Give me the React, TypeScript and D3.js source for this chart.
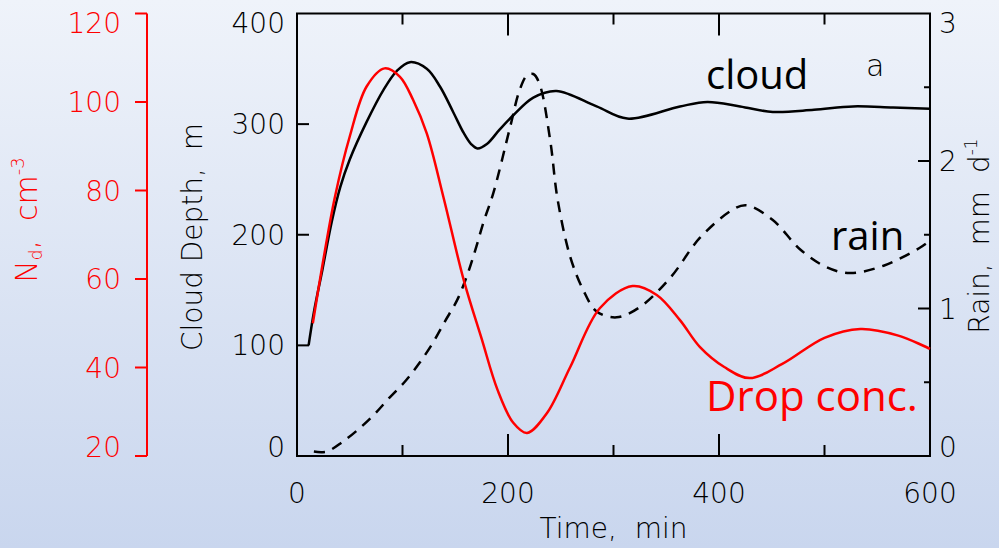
import React from 'react';
import * as d3 from 'd3';

// Cloud depth (m) vs time (min)
const cloudTime = [11, 16, 24, 33, 41, 50, 66, 82, 94.5, 107, 123, 135.5, 148, 158, 165, 171, 180, 192, 205, 224, 246, 284, 313, 363, 389, 420, 451, 490, 527, 565, 600];
const cloudDepth = [100, 130, 168, 212, 243, 268, 302, 331, 348, 356, 350, 334, 311, 292, 282, 278, 282, 295, 308, 324, 330, 316, 305, 316, 320, 316, 311, 313, 316, 315, 314];

// Drop concentration Nd (cm^-3) vs time (min)
const dropTime = [15, 24, 36, 50, 66, 83, 97.6, 110, 123, 138.7, 158, 175, 190, 205, 218, 237, 259, 287, 318, 341, 363, 382, 405, 429, 460, 500, 534, 570, 600];
const dropConc = [50, 63, 78.6, 92.2, 103.5, 107.6, 105.7, 100.5, 92.9, 78.6, 59.8, 46.5, 35, 27.5, 25.2, 29.7, 40.1, 53.4, 58.4, 56.4, 50.7, 44.6, 40.1, 37.6, 40.8, 46.7, 48.7, 47.2, 44.2];

// Rain rate (mm/d) vs time (min)
const rainTime = [16, 28, 43, 58, 73, 87, 103, 116, 129, 140, 152, 162, 170, 177, 186, 202, 211, 218, 224, 230, 240, 247, 259, 271, 284, 303, 325, 354, 382, 413, 426, 451, 477, 502, 524, 556, 590, 600];
const rainRate = [0.03, 0.03, 0.095, 0.18, 0.28, 0.39, 0.51, 0.63, 0.77, 0.91, 1.06, 1.24, 1.42, 1.59, 1.78, 2.23, 2.48, 2.58, 2.59, 2.52, 2.14, 1.74, 1.35, 1.13, 0.98, 0.94, 1.01, 1.21, 1.48, 1.67, 1.7, 1.6, 1.4, 1.28, 1.24, 1.29, 1.41, 1.46];

// Axis ticks
const timeTicks = [0, 200, 400, 600];
const timeMinor = [100, 300, 500];
const depthTicks = [0, 100, 200, 300, 400];
const ndTicks = [20, 40, 60, 80, 100, 120];
const rainTicks = [0, 1, 2, 3];
const rainMinor = [0.5, 1.5, 2.5];

const W = 999;
const H = 548;
const M = { left: 297, right: 930, top: 13.5, bottom: 456 };
const ndAxisX = 147;

const axisFont = "'DejaVu Sans', sans-serif";
const noteFont = "'Open Sans', sans-serif";

export default function App() {
  const x = d3.scaleLinear().domain([0, 600]).range([M.left, M.right]);
  const yDepth = d3.scaleLinear().domain([0, 400]).range([M.bottom, M.top]);
  const yNd = d3.scaleLinear().domain([20, 120]).range([M.bottom, M.top]);
  const yRain = d3.scaleLinear().domain([0, 3]).range([M.bottom, M.top]);

  const path = (ts: number[], vs: number[], y: d3.ScaleLinear<number, number>) =>
    d3
      .line<number>()
      .x((_, i) => x(ts[i]))
      .y((v) => y(v))
      .curve(d3.curveCatmullRom.alpha(0.5))(vs) || '';

  // end labels are nudged inside the frame
  const labelY = (y: number) => Math.min(Math.max(y, M.top + 9), M.bottom - 9);

  const tickText = { fontFamily: axisFont, fontSize: 28, fontWeight: 300 } as const;

  return (
    <div style={{ position: 'fixed', left: 0, top: 0, width: W, height: H }}>
      <svg width={W} height={H} viewBox={`0 0 ${W} ${H}`} style={{ display: 'block' }}>
        <defs>
          <linearGradient id="bg" x1="0" y1="0" x2="0" y2="1">
            <stop offset="0" stopColor="#eff3fa" />
            <stop offset="1" stopColor="#c9d6ee" />
          </linearGradient>
        </defs>
        <rect x={0} y={0} width={W} height={H} fill="url(#bg)" />

        {/* Nd axis (red, detached) */}
        <g stroke="#ff0000" strokeWidth={2} fill="none">
          <line x1={ndAxisX} x2={ndAxisX} y1={yNd(20)} y2={yNd(120)} />
          {ndTicks.map((t) => (
            <line key={t} x1={ndAxisX - 12} x2={ndAxisX} y1={yNd(t)} y2={yNd(t)} />
          ))}
        </g>
        <g fill="#ff0000" {...tickText} textAnchor="end">
          {ndTicks.map((t) => (
            <text key={t} x={121} y={labelY(yNd(t))} dy="0.36em">
              {t}
            </text>
          ))}
        </g>
        <text
          transform={`translate(37,220) rotate(-90)`}
          textAnchor="middle"
          fill="#ff0000"
          fontFamily={axisFont}
          fontSize={30}
          fontWeight={300}
          style={{ whiteSpace: 'pre' }}
        >
          N<tspan fontSize={17} dy={5}>d</tspan>
          <tspan dy={-5}>,  cm</tspan>
          <tspan fontSize={18} dy={-13}>-3</tspan>
        </text>

        {/* frame */}
        <rect
          x={M.left}
          y={M.top}
          width={M.right - M.left}
          height={M.bottom - M.top}
          fill="none"
          stroke="#000"
          strokeWidth={2}
        />

        <g stroke="#000" strokeWidth={2}>
          {/* time ticks, bottom and top */}
          {timeTicks.slice(1, -1).map((t) => (
            <g key={t}>
              <line x1={x(t)} x2={x(t)} y1={M.bottom} y2={M.bottom - 22} />
              <line x1={x(t)} x2={x(t)} y1={M.top} y2={M.top + 22} />
            </g>
          ))}
          {timeMinor.map((t) => (
            <g key={t}>
              <line x1={x(t)} x2={x(t)} y1={M.bottom} y2={M.bottom - 11} />
              <line x1={x(t)} x2={x(t)} y1={M.top} y2={M.top + 11} />
            </g>
          ))}
          {/* depth ticks on the left */}
          {depthTicks.slice(1, -1).map((t) => (
            <line key={t} x1={M.left} x2={M.left + 12} y1={yDepth(t)} y2={yDepth(t)} />
          ))}
          {/* rain ticks on the right */}
          {rainTicks.slice(1, -1).map((t) => (
            <line key={t} x1={M.right} x2={M.right - 12} y1={yRain(t)} y2={yRain(t)} />
          ))}
          {rainMinor.map((t) => (
            <line key={t} x1={M.right} x2={M.right - 6} y1={yRain(t)} y2={yRain(t)} />
          ))}
        </g>

        {/* tick labels */}
        <g fill="#000" {...tickText}>
          {depthTicks.map((t) => (
            <text key={t} x={285} y={labelY(yDepth(t))} dy="0.36em" textAnchor="end">
              {t}
            </text>
          ))}
          {rainTicks.map((t) => (
            <text key={t} x={939} y={labelY(yRain(t))} dy="0.36em" textAnchor="start">
              {t}
            </text>
          ))}
          {timeTicks.map((t) => (
            <text key={t} x={x(t)} y={503} textAnchor="middle">
              {t}
            </text>
          ))}
        </g>

        {/* axis titles */}
        <text
          x={(M.left + M.right) / 2}
          y={538}
          textAnchor="middle"
          fontFamily={axisFont}
          fontSize={28}
          fontWeight={300}
          style={{ whiteSpace: 'pre' }}
        >
          Time,  min
        </text>
        <text
          transform={`translate(202,237) rotate(-90)`}
          textAnchor="middle"
          fontFamily={axisFont}
          fontSize={28}
          fontWeight={300}
          style={{ whiteSpace: 'pre' }}
        >
          Cloud Depth,  m
        </text>
        <text
          transform={`translate(989,236) rotate(-90)`}
          textAnchor="middle"
          fontFamily={axisFont}
          fontSize={28}
          fontWeight={300}
          style={{ whiteSpace: 'pre' }}
        >
          Rain,  mm  d<tspan fontSize={17} dy={-12}>-1</tspan>
        </text>

        {/* series */}
        <path d={path(rainTime, rainRate, yRain)} fill="none" stroke="#000" strokeWidth={2.5} strokeDasharray="11 8" />
        <path d={path(cloudTime, cloudDepth, yDepth)} fill="none" stroke="#000" strokeWidth={2.5} />
        <path d={path(dropTime, dropConc, yNd)} fill="none" stroke="#ff0000" strokeWidth={2.5} />

        {/* annotations */}
        <text x={706} y={89} fontFamily={noteFont} fontSize={40} fill="#000">
          cloud
        </text>
        <text x={866} y={76} fontFamily={axisFont} fontSize={30} fontWeight={300} fill="#000">
          a
        </text>
        <text x={831} y={250} fontFamily={noteFont} fontSize={40} fill="#000">
          rain
        </text>
        <text x={706} y={411} fontFamily={noteFont} fontSize={42} fill="#ff0000">
          Drop conc.
        </text>
      </svg>
    </div>
  );
}
